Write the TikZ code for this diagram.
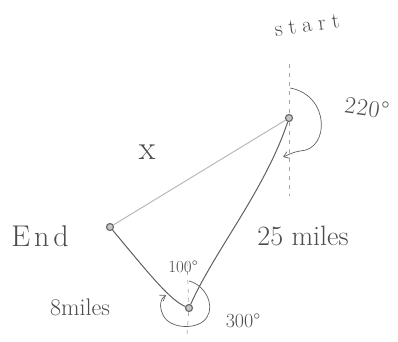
\documentclass[tikz,border=0pt]{standalone}
\usepackage{fontspec}
\usetikzlibrary{arrows.meta}
\newcommand{\fs}[1]{\fontsize{#1}{#1}\selectfont}
\begin{document}
\begin{tikzpicture}[x=1pt,y=-1pt,
  pt/.style={circle,draw=gray!85!black,fill=gray!45,line width=1.2pt,inner sep=0pt,minimum size=7pt},
  side/.style={draw=gray!75!black,line width=1pt},
  lside/.style={draw=gray!55,line width=1pt},
  guide/.style={draw=gray!70,dashed,line width=0.7pt,dash pattern=on 4pt off 5pt},
  turn/.style={draw=gray!75!black,line width=0.7pt,-{Straight Barb[length=5pt,width=7pt]}},
  lbl/.style={text=gray!60!black,inner sep=0pt}]
\useasboundingbox (0,0) rectangle (398,341);
% points
\node[pt] (S) at (289,118) {};
\node[pt] (E) at (110,227) {};
\node[pt] (B) at (189,308) {};
% guide lines
\coordinate (s1) at (289,64);
\coordinate (s2) at (289,196);
\draw[guide] (s1) -- (S) -- (s2);
\coordinate (b1) at (187,262);
\coordinate (b2) at (187,334);
\draw[guide] (b1) -- (B) -- (b2);
% triangle
\draw[lside] (S) -- (E);
\draw[side] (E) .. controls (150,275) and (170,300) .. (B);
\draw[side] (S) .. controls (265,190) and (215,250) .. (B);
% turning arcs
\draw[turn] (290,88) .. controls (330,95) and (330,150) .. (300,151) .. controls (293,152) and (288,155) .. (283,157);
\draw[turn] (189,281) .. controls (205,285) and (215,305) .. (207,317)
  .. controls (200,330) and (170,330) .. (163,315) .. controls (159,306) and (160,299) .. (166,295);
% labels
\node[lbl,font=\fs{22},rotate=8] (tstart) at (307,25) {s\hspace{6pt}t\hspace{6pt}a\hspace{6pt}r\hspace{6pt}t};
\node[lbl,font=\fs{24},rotate=-8] (t220) at (367,108) {2\hspace{1pt}2\hspace{1pt}0\hspace{1pt}\textdegree};
\node[lbl,font=\fs{34}] (tx) at (147,152) {x};
\node[lbl,font=\fs{28}] (t25) at (303,236) {25 miles};
\node[lbl,font=\fs{30}] (tend) at (40,236) {E\hspace{4pt}n\hspace{4pt}d};
\node[lbl,font=\fs{24}] (t8) at (80,307) {8miles};
\node[lbl,font=\fs{17}] (t100) at (183,267) {100\textdegree};
\node[lbl,font=\fs{20}] (t300) at (243,321) {300\textdegree};
\end{tikzpicture}
\end{document}
